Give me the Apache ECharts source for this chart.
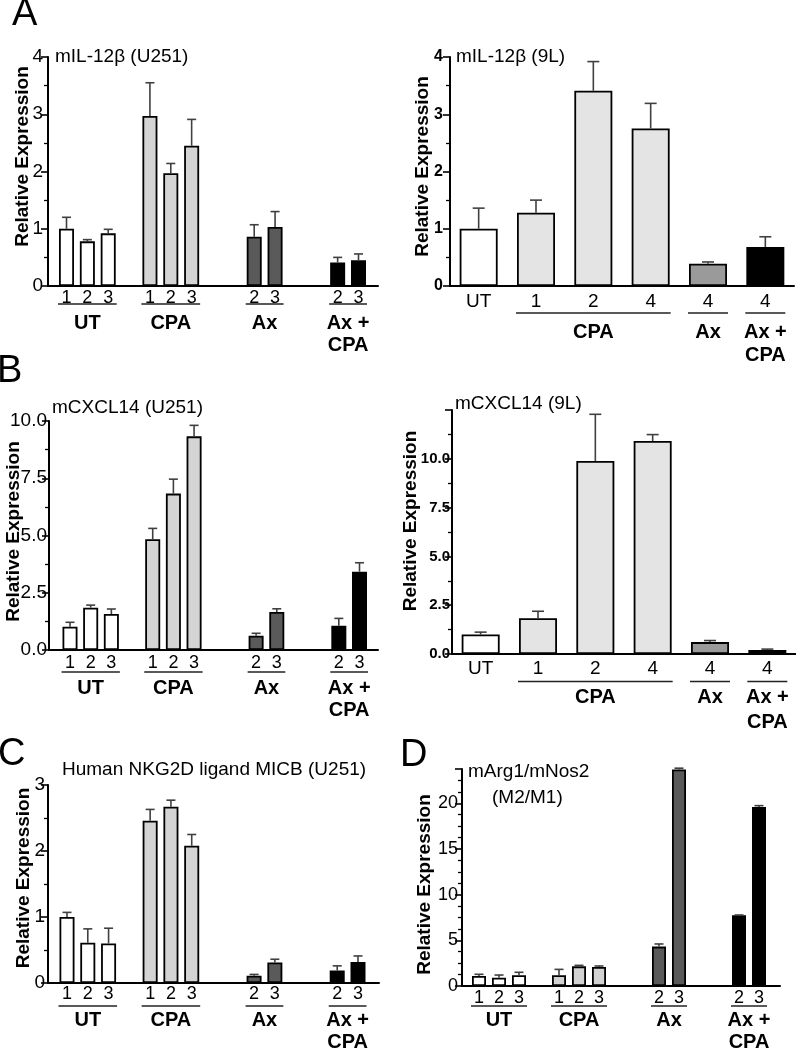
<!DOCTYPE html>
<html><head><meta charset="utf-8">
<script src="https://cdn.jsdelivr.net/npm/echarts@6/dist/echarts.min.js"></script>
<style>html,body{margin:0;padding:0;background:#fff}#c{width:796px;height:1050px}</style>
</head><body><div id="c"></div>
<script>
// ---------------- DATA ----------------
const U251_GROUPS = ['UT','UT','UT','CPA','CPA','CPA','Ax','Ax','Ax + CPA','Ax + CPA'];
const U251_DOSES  = ['1','2','3','1','2','3','2','3','2','3'];
const L9_GROUPS   = ['UT','CPA','CPA','CPA','Ax','Ax + CPA'];
const L9_DOSES    = ['UT','1','2','4','4','4'];

// A: mIL-12β (U251)
const A_U251_TICKS = [0,1,2,3,4];
const A_U251_MEAN  = [1.00,0.78,0.92,2.97,1.97,2.45,0.86,1.03,0.41,0.45];
const A_U251_SEM   = [0.20,0.03,0.07,0.58,0.17,0.46,0.21,0.27,0.09,0.11];
// A: mIL-12β (9L)
const A_9L_TICKS = [0,1,2,3,4];
const A_9L_MEAN  = [1.00,1.28,3.41,2.75,0.39,0.68];
const A_9L_SEM   = [0.36,0.22,0.51,0.44,0.03,0.18];
// B: mCXCL14 (U251)
const B_U251_TICKS = [0,2.5,5,7.5,10];
const B_U251_MEAN  = [1.02,1.85,1.57,4.84,6.83,9.33,0.62,1.66,1.06,3.42];
const B_U251_SEM   = [0.19,0.11,0.22,0.47,0.63,0.48,0.11,0.14,0.32,0.39];
// B: mCXCL14 (9L)
const B_9L_TICKS = [0,2.5,5,7.5,10];
const B_9L_MAX   = 12.5;
const B_9L_MEAN  = [1.00,1.83,9.89,10.91,0.61,0.21];
const B_9L_SEM   = [0.12,0.36,2.39,0.33,0.08,0.04];
// C: Human NKG2D ligand MICB (U251)
const C_TICKS = [0,1,2,3];
const C_MEAN  = [1.00,0.61,0.60,2.46,2.67,2.08,0.11,0.31,0.19,0.32];
const C_SEM   = [0.07,0.21,0.23,0.17,0.10,0.17,0.02,0.05,0.07,0.09];
// D: mArg1/mNos2 (M2/M1)
const D_TICKS = [0,5,10,15,20];
const D_MAX   = 23.75;
const D_MEAN  = [1.09,0.91,1.17,1.17,2.15,2.08,4.31,23.70,7.74,19.60];
const D_SEM   = [0.19,0.29,0.33,0.65,0.11,0.11,0.29,0.14,0.03,0.14];

// ---------------- STYLE / LAYOUT ----------------
const FONT = "'Liberation Sans', Arial, Helvetica, sans-serif";
const COL_U251 = {'UT':'#ffffff','CPA':'#d4d4d4','Ax':'#5a5a5a','Ax + CPA':'#000000'};
const COL_9L   = {'UT':'#ffffff','CPA':'#e4e4e4','Ax':'#9a9a9a','Ax + CPA':'#000000'};
const COL_D    = {'UT':'#ffffff','CPA':'#d2d2d2','Ax':'#5a5a5a','Ax + CPA':'#000000'};

const option = {animation:false, backgroundColor:'#ffffff', grid:[], xAxis:[], yAxis:[], series:[], graphic:[]};
const AXLINE = {color:'#000', width:2};

function yAxisOpt(gridIndex, ticks, axisMax, p, visible) {
  const interval = ticks[1]-ticks[0];
  const last = ticks[ticks.length-1];
  return {
    type:'value', gridIndex, min:ticks[0], max: axisMax != null ? axisMax : last, interval, show:visible,
    axisLine:{show:true, lineStyle:AXLINE},
    axisTick:{show:true, length:7, lineStyle:{color:'#000', width:1.6}},
    minorTick:{show:true, splitNumber:p.minor, length:4, lineStyle:{color:'#000', width:1.3}},
    splitLine:{show:false}, minorSplitLine:{show:false},
    axisLabel:{color:'#000', fontFamily:FONT, fontSize:p.tickSize, fontWeight:p.tickBold?'bold':'normal', margin:p.tickMargin,
      formatter: v => { const k=(v-ticks[0])/interval; return (Math.abs(k-Math.round(k))<1e-6 && v<=last+1e-9) ? v.toFixed(p.dec) : ''; }},
    name: visible ? 'Relative Expression' : '', nameLocation:'middle', nameGap:p.nameGap, nameMoveOverlap:false,
    nameTextStyle:{fontFamily:FONT, fontSize:19, fontWeight:'bold', color:'#000',
      padding: p.nameShift>=0 ? [0,0,0,2*p.nameShift] : [0,-2*p.nameShift,0,0]}
  };
}

function buildPanel(d, p) {
  const slots = [];
  let gapIdx = 0;
  d.groups.forEach((g,i) => {
    if (i>0 && g!==d.groups[i-1]) {
      const ng = p.gaps ? p.gaps[gapIdx] : 0;
      for (let k=0;k<ng;k++) slots.push({key:'gap-'+gapIdx+'-'+k, label:'', bar:-1});
      gapIdx++;
    }
    slots.push({key:g+' '+d.doses[i]+' #'+i, label:d.doses[i], bar:i, group:g});
  });
  const labelOf = {}; slots.forEach(s => labelOf[s.key] = s.label);
  const n = slots.length;
  const h = p.y0 - p.top;
  const gAxes = option.grid.length;
  option.grid.push({left:p.axL, top:p.top, width:p.axR-p.axL, height:h});
  let gBars = gAxes;
  const split = p.firstC != null;
  if (split) {
    const w = (p.lastC - p.firstC)/(n-1);
    gBars = option.grid.length;
    option.grid.push({left:p.firstC - w/2, top:p.top, width:w*n, height:h});
    option.xAxis.push({type:'value', gridIndex:gAxes, min:0, max:1,
      axisLine:{show:true, onZero:false, lineStyle:AXLINE}, axisTick:{show:false}, axisLabel:{show:false}, splitLine:{show:false}});
    option.yAxis.push(yAxisOpt(gAxes, d.ticks, d.max, p, true));
  }
  const xi = option.xAxis.length;
  option.xAxis.push({type:'category', gridIndex:gBars, data:slots.map(s=>s.key),
    axisLine:{show:!split, onZero:false, lineStyle:AXLINE}, axisTick:{show:false},
    axisLabel:{interval:0, margin:p.doseMargin, fontFamily:FONT, fontSize:p.doseSize, color:'#000',
      formatter: v => labelOf[v]}});
  const yi = option.yAxis.length;
  option.yAxis.push(yAxisOpt(gBars, d.ticks, d.max, p, !split));

  option.series.push({type:'bar', xAxisIndex:xi, yAxisIndex:yi, barWidth:p.barW, z:2, silent:true,
    data: slots.map(s => s.bar<0 ? '-' : {value:d.mean[s.bar],
      itemStyle:{color:p.colors[s.group], borderColor:'#000', borderWidth:1.8}})});

  const errData = [];
  slots.forEach((s,k) => { if (s.bar>=0) errData.push([k, d.mean[s.bar], d.mean[s.bar]+d.sem[s.bar]]); });
  option.series.push({type:'custom', xAxisIndex:xi, yAxisIndex:yi, z:3, silent:true, data:errData,
    renderItem:(params, api) => {
      const a = api.coord([api.value(0), api.value(1)]);
      const b = api.coord([api.value(0), api.value(2)]);
      const st = {stroke:'#404040', lineWidth:1.6};
      return {type:'group', children:[
        {type:'line', shape:{x1:a[0], y1:a[1], x2:b[0], y2:b[1]}, style:st},
        {type:'line', shape:{x1:b[0]-p.cap, y1:b[1], x2:b[0]+p.cap, y2:b[1]}, style:st}
      ]};
    }});

  const brackets = [];
  slots.forEach((s,k) => {
    if (s.bar<0 || s.label===s.group) return;
    const last = brackets[brackets.length-1];
    if (last && last.name===s.group && last.end===k-1) last.end = k;
    else brackets.push({name:s.group, start:k, end:k});
  });
  option.series.push({type:'custom', xAxisIndex:xi, yAxisIndex:yi, z:3, silent:true,
    data: brackets.map(g => [g.start, 0, g.end]),
    renderItem:(params, api) => {
      const g = brackets[params.dataIndex];
      const a = api.coord([g.start, 0]), b = api.coord([g.end, 0]);
      const y0 = a[1];
      return {type:'group', children:[
        {type:'line', shape:{x1:a[0]-p.barW/2-1, y1:y0+p.ul, x2:b[0]+p.barW/2+1, y2:y0+p.ul},
          style:{stroke:'#222', lineWidth:1.6}},
        {type:'text', style:{text:g.name.replace(' + ', ' +\n'), x:(a[0]+b[0])/2, y:y0+p.lab-p.lineH/2,
          align:'center', verticalAlign:'top', textAlign:'center', textVerticalAlign:'top',
          fontFamily:FONT, fontSize:p.groupSize, fontWeight:'bold', lineHeight:p.lineH, fill:'#000'}}
      ]};
    }});
}

const U = {minor:2, tickBold:false, dec:0, doseSize:18, groupSize:20, lineH:22, barW:15, cap:4.5, gaps:[1,2,2]};
const L = {minor:2, tickBold:true, dec:0, doseSize:19, groupSize:20, lineH:23, barW:38, cap:6};

buildPanel({groups:U251_GROUPS, doses:U251_DOSES, mean:A_U251_MEAN, sem:A_U251_SEM, ticks:A_U251_TICKS},
  Object.assign({}, U, {colors:COL_U251, axL:48, axR:378, top:57, y0:286, firstC:66.5, lastC:358.5,
    tickSize:19, tickMargin:5, nameGap:16, nameShift:15, doseMargin:3, ul:18, lab:37}));
buildPanel({groups:L9_GROUPS, doses:L9_DOSES, mean:A_9L_MEAN, sem:A_9L_SEM, ticks:A_9L_TICKS},
  Object.assign({}, L, {colors:COL_9L, axL:450, axR:794, top:57, y0:286,
    tickSize:16, tickMargin:7, nameGap:18, nameShift:5, doseMargin:6, ul:27, lab:46}));
buildPanel({groups:U251_GROUPS, doses:U251_DOSES, mean:B_U251_MEAN, sem:B_U251_SEM, ticks:B_U251_TICKS},
  Object.assign({}, U, {colors:COL_U251, axL:49, axR:378, top:421, y0:650, firstC:70, lastC:359.5, dec:1,
    tickSize:19, tickMargin:2, nameGap:26, nameShift:4, doseMargin:4, ul:22, lab:38}));
buildPanel({groups:L9_GROUPS, doses:L9_DOSES, mean:B_9L_MEAN, sem:B_9L_SEM, ticks:B_9L_TICKS, max:B_9L_MAX},
  Object.assign({}, L, {colors:COL_9L, axL:452, axR:796, top:410, y0:654, dec:1, lineH:25,
    tickSize:15, tickMargin:2, nameGap:32, nameShift:11, doseMargin:5, ul:27.5, lab:43.5}));
buildPanel({groups:U251_GROUPS, doses:U251_DOSES, mean:C_MEAN, sem:C_SEM, ticks:C_TICKS},
  Object.assign({}, U, {colors:COL_U251, axL:48, axR:379, top:785, y0:983, firstC:67, lastC:358,
    tickSize:19, tickMargin:3, nameGap:15, nameShift:6, doseMargin:2, ul:23, lab:37}));
buildPanel({groups:U251_GROUPS, doses:U251_DOSES, mean:D_MEAN, sem:D_SEM, ticks:D_TICKS, max:D_MAX},
  Object.assign({}, U, {colors:COL_D, minor:4, axL:462, axR:780, top:769, y0:986, firstC:479, lastC:759, barW:14,
    tickSize:18, tickMargin:4, nameGap:28, nameShift:-7, doseMargin:3, ul:20, lab:34}));

function txt(text, x, y, size, align) {
  option.graphic.push({type:'text', x, y, silent:true, style:{text, fill:'#000',
    font: size+'px '+FONT, textAlign:align||'left', textVerticalAlign:'middle', align:align||'left', verticalAlign:'middle'}});
}
txt('A', 12, 15, 38); txt('B', -3, 372, 38); txt('C', -2, 755, 38); txt('D', 400, 756, 38);
txt('mIL-12β (U251)', 55, 57, 19);
txt('mIL-12β (9L)', 456, 57, 19);
txt('mCXCL14 (U251)', 52, 408, 19);
txt('mCXCL14 (9L)', 455, 404, 19);
txt('Human NKG2D ligand MICB (U251)', 62, 770, 19);
txt('mArg1/mNos2', 468, 772, 19);
txt('(M2/M1)', 492, 798, 19);

const chart = echarts.init(document.getElementById('c'), null, {renderer:'canvas'});
chart.setOption(option);
</script></body></html>
